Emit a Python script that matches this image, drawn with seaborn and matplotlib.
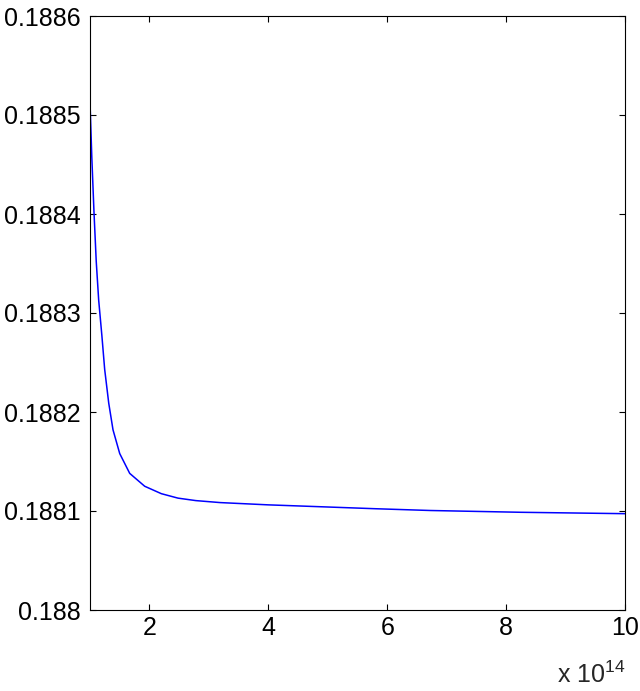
import matplotlib
matplotlib.use("Agg")
import matplotlib.pyplot as plt
import matplotlib.ticker as mticker
import seaborn as sns
import pandas as pd

# x in units of 1e14
x_vals = [1.0, 1.03, 1.067, 1.105, 1.146, 1.20, 1.247, 1.315, 1.387, 1.50, 1.668,
          1.92, 2.2, 2.48, 2.78, 3.19, 4.0, 4.88, 5.8, 6.73, 8.25, 10.0]
y_vals = [0.188513, 0.188458, 0.188402, 0.188352, 0.188313, 0.188277, 0.188243,
          0.188209, 0.188182, 0.188158, 0.188138, 0.188125, 0.1881175, 0.188113,
          0.1881105, 0.1881085, 0.1881062, 0.1881043, 0.1881023, 0.1881005,
          0.1880987, 0.1880973]
x_ticks = [2, 4, 6, 8, 10]
y_ticks = [0.188, 0.1881, 0.1882, 0.1883, 0.1884, 0.1885, 0.1886]

sns.set_style("ticks")
plt.rcParams["font.family"] = ["Liberation Sans", "DejaVu Sans"]
plt.rcParams["mathtext.fontset"] = "custom"
plt.rcParams["mathtext.rm"] = "Liberation Sans"

df = pd.DataFrame({"x": x_vals, "y": y_vals})

fig = plt.figure(figsize=(6.4, 6.91), dpi=100)
ax = fig.add_axes([90/640, 81/691, 535/640, 594/691])
sns.lineplot(data=df, x="x", y="y", ax=ax, color="#0000ff", linewidth=1.1)

ax.set_xlim(1, 10)
ax.set_ylim(0.188, 0.1886)
ax.set_xticks(x_ticks)
ax.set_yticks(y_ticks)
ax.yaxis.set_major_formatter(mticker.FuncFormatter(lambda v, p: "%g" % round(v, 5)))
ax.xaxis.set_major_formatter(mticker.FuncFormatter(lambda v, p: "%g" % v))
ax.set_xlabel("")
ax.set_ylabel("")
for s in ax.spines.values():
    s.set_visible(True)
    s.set_linewidth(0.8)
    s.set_color("black")
ax.tick_params(direction="in", length=4.5, width=0.8, labelsize=18,
               top=True, right=True, colors="black")
ax.tick_params(axis="x", pad=4)
ax.tick_params(axis="y", pad=7)

fig.text(625/640, 1 - 683/691, "x 10$^{14}$", ha="right", va="baseline", fontsize=18)

fig.savefig("out.png", dpi=100)
